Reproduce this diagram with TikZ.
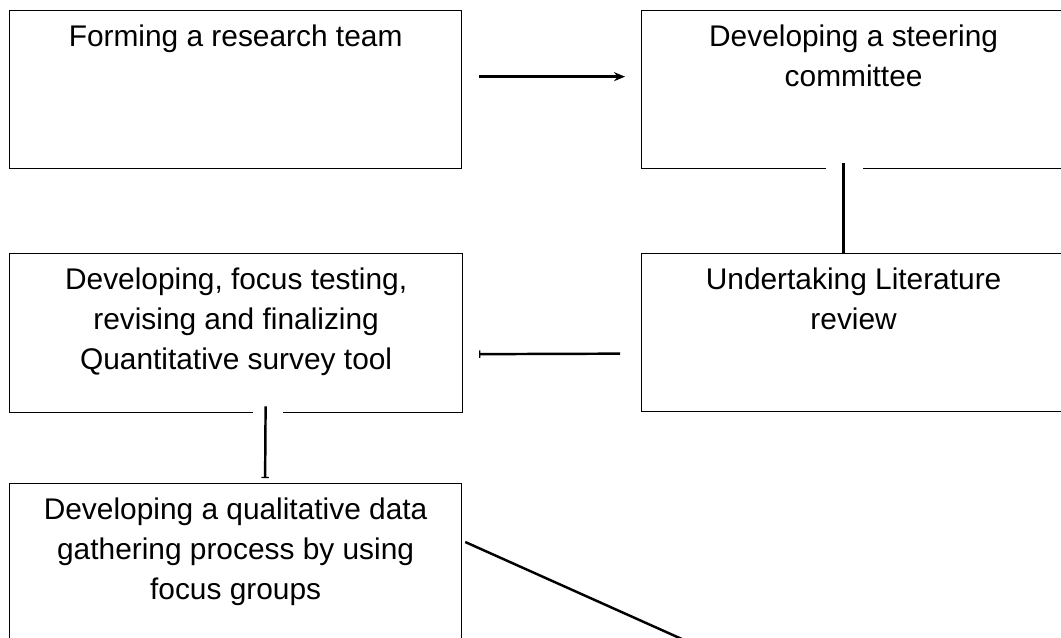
\documentclass[tikz,border=0pt]{standalone}
\usepackage{fontspec}
\setmainfont{Liberation Sans}
\usetikzlibrary{arrows.meta,calc}
\newcommand{\stagetext}[3]{\parbox[t][#2][t]{#1}{\centering\vspace*{8pt}#3}}
\tikzset{
  stage/.style ={rectangle, draw=black, line width=0.75pt, inner sep=0pt,
                 anchor=north west, font=\fontsize{17}{22.7}\selectfont},
  link/.style  ={draw=black, line width=1.4pt},
  ar/.style    ={link, -{Stealth[length=2.2mm, width=1.8mm]}},
  bar/.style   ={link, -{Bar[width=1.5mm, line width=0.6pt]}},
  cut/.style   ={draw=white, line width=3pt}
}

\begin{document}
\begin{tikzpicture}[x=0.02cm, y=-0.02cm]
\useasboundingbox (0,0) rectangle (1061,637);
\clip (0,0) rectangle (1061,637);

\node[stage] (team) at (9,10)
  {\stagetext{9.04cm}{3.16cm}{Forming a research team}};
\node[stage] (committee) at (641,10)
  {\stagetext{8.48cm}{3.16cm}{Developing a steering\\committee}};
\node[stage] (survey) at (9,253)
  {\stagetext{9.06cm}{3.18cm}{Developing, focus testing,\\revising and finalizing\\Quantitative survey tool}};
\node[stage] (review) at (641,253)
  {\stagetext{8.48cm}{3.16cm}{Undertaking Literature\\review}};
\node[stage] (focus) at (9,483)
  {\stagetext{9.04cm}{3.4cm}{Developing a qualitative data\\gathering process by using\\focus groups}};
\coordinate (offpage) at (722,657);

% links
\draw[ar] ([xshift=0.34cm, yshift=0.26cm]team.east) -- ([xshift=-0.32cm, yshift=0.26cm]committee.west);
\draw[cut] ([xshift=-0.56cm]committee.south) -- ([xshift=0.18cm]committee.south);
\draw[link] ([xshift=-0.2cm, yshift=0.12cm]committee.south) -- ([xshift=-0.2cm]review.north);
\draw[bar] ([xshift=-0.42cm, yshift=-0.42cm]review.west) -- ([xshift=0.32cm, yshift=-0.42cm]survey.east);
\draw[cut] ([xshift=0.33cm]survey.south) -- ([xshift=0.93cm]survey.south);
\draw[bar] ([xshift=0.59cm, yshift=0.14cm]survey.south) -- ([xshift=0.59cm, yshift=0.1cm]focus.north);
\draw[link] ([xshift=0.06cm, yshift=-1.18cm]focus.north east) -- (offpage);
\end{tikzpicture}
\end{document}
